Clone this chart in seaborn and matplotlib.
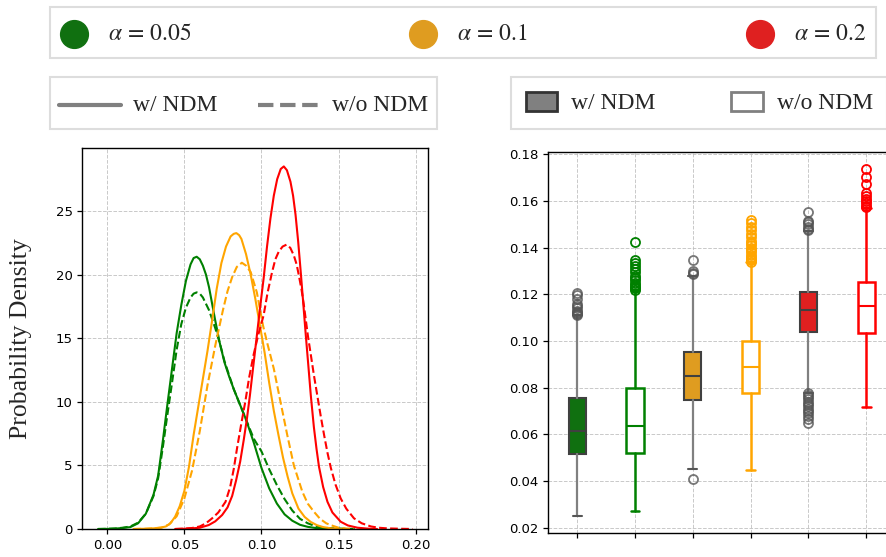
import numpy as np
import pandas as pd
import matplotlib
matplotlib.use("Agg")
import matplotlib.pyplot as plt
import seaborn as sns
from matplotlib.lines import Line2D
from matplotlib.patches import Patch
from matplotlib.legend_handler import HandlerLine2D

# ---------------- data ----------------
alpha_names = ["0.05", "0.1", "0.2"]
alpha_labels = [r"$\alpha\,=\,0.05$", r"$\alpha\,=\,0.1$", r"$\alpha\,=\,0.2$"]
methods = ["w/ NDM", "w/o NDM"]
line_colors = ["#008000", "#FFA500", "#FF0000"]
fill_colors = ["#107010", "#DF9C20", "#DF2020"]

# density curves (x, density)
x_g_w = [-0.006, 0.000, 0.005, 0.010, 0.015, 0.020, 0.025, 0.030, 0.033, 0.036, 0.039,
         0.042, 0.045, 0.048, 0.051, 0.054, 0.056, 0.058, 0.060, 0.062, 0.064, 0.066,
         0.068, 0.070, 0.073, 0.076, 0.079, 0.082, 0.086, 0.090, 0.095, 0.100, 0.105,
         0.110, 0.115, 0.120, 0.125, 0.130, 0.135, 0.140, 0.150, 0.160]
d_g_w = [0.0, 0.01, 0.03, 0.08, 0.15, 0.45, 1.2, 2.7, 4.2, 6.9, 9.8,
         12.6, 15.4, 17.6, 19.5, 20.8, 21.3, 21.4, 21.2, 20.7, 20.0, 19.0,
         17.7, 16.4, 14.6, 13.1, 12.0, 11.0, 9.8, 8.6, 6.8, 4.8, 3.2,
         2.0, 1.15, 0.65, 0.33, 0.17, 0.08, 0.04, 0.01, 0.0]

x_g_wo = [-0.006, 0.000, 0.005, 0.010, 0.015, 0.020, 0.025, 0.030, 0.033, 0.036, 0.039,
          0.042, 0.045, 0.048, 0.051, 0.054, 0.056, 0.058, 0.060, 0.062, 0.064, 0.066,
          0.068, 0.070, 0.073, 0.076, 0.079, 0.082, 0.086, 0.090, 0.095, 0.100, 0.105,
          0.110, 0.115, 0.120, 0.125, 0.130, 0.135, 0.140, 0.150, 0.160]
d_g_wo = [0.0, 0.015, 0.04, 0.1, 0.2, 0.5, 1.2, 2.6, 4.0, 6.4, 9.0,
          11.5, 14.1, 16.1, 17.4, 18.2, 18.5, 18.6, 18.5, 18.2, 17.7, 17.2,
          16.5, 15.8, 14.6, 13.2, 12.1, 11.0, 9.8, 8.6, 7.1, 6.1, 4.7,
          3.45, 2.35, 1.45, 0.8, 0.45, 0.22, 0.1, 0.03, 0.0]

x_o_w = [0.017, 0.025, 0.030, 0.035, 0.038, 0.041, 0.044, 0.047, 0.050, 0.053, 0.056,
         0.059, 0.062, 0.065, 0.068, 0.071, 0.074, 0.077, 0.080, 0.082, 0.0837, 0.0855,
         0.087, 0.090, 0.093, 0.096, 0.099, 0.102, 0.105, 0.108, 0.111, 0.114, 0.117,
         0.120, 0.124, 0.128, 0.132, 0.136, 0.140, 0.145, 0.152]
d_o_w = [0.0, 0.02, 0.05, 0.12, 0.2, 0.45, 0.97, 1.8, 3.0, 4.9, 7.4,
         9.6, 11.8, 14.0, 16.4, 18.9, 20.9, 22.2, 23.0, 23.2, 23.26, 23.1,
         22.8, 21.6, 20.0, 18.1, 16.0, 13.9, 11.5, 9.3, 7.4, 5.6, 4.1,
         2.8, 1.6, 0.95, 0.55, 0.3, 0.15, 0.05, 0.0]

x_o_wo = [0.017, 0.025, 0.030, 0.035, 0.040, 0.045, 0.050, 0.055, 0.060, 0.065, 0.070,
          0.075, 0.078, 0.081, 0.084, 0.0873, 0.090, 0.093, 0.097, 0.101, 0.104, 0.108,
          0.112, 0.1167, 0.121, 0.1265, 0.130, 0.134, 0.138, 0.142, 0.145, 0.150, 0.155,
          0.160]
d_o_wo = [0.0, 0.02, 0.05, 0.1, 0.35, 1.0, 2.4, 4.6, 7.7, 11.3, 14.4,
          17.2, 18.7, 19.8, 20.6, 20.93, 20.7, 20.2, 18.6, 16.0, 14.5, 12.6,
          10.2, 7.4, 5.0, 2.93, 2.0, 1.36, 0.8, 0.45, 0.3, 0.1, 0.03,
          0.0]

x_r_w = [0.044, 0.050, 0.055, 0.060, 0.0658, 0.070, 0.0745, 0.078, 0.081, 0.0835, 0.0862,
         0.0885, 0.0906, 0.0925, 0.0945, 0.097, 0.099, 0.1014, 0.1036, 0.1058, 0.108, 0.1102,
         0.1125, 0.1145, 0.1165, 0.1188, 0.1205, 0.1221, 0.1238, 0.1254, 0.127, 0.1287, 0.1305,
         0.132, 0.134, 0.1357, 0.1373, 0.140, 0.1428, 0.146, 0.1514, 0.156, 0.1623, 0.170,
         0.175]
d_r_w = [0.0, 0.02, 0.05, 0.1, 0.31, 0.6, 1.1, 1.7, 2.6, 3.8, 5.3,
         7.0, 8.7, 10.5, 12.6, 15.2, 17.3, 19.7, 22.2, 24.4, 26.2, 27.5,
         28.3, 28.5, 28.2, 27.3, 26.2, 24.7, 22.6, 20.3, 17.9, 15.3, 12.7,
         10.5, 8.0, 6.3, 4.9, 3.3, 2.14, 1.3, 0.57, 0.28, 0.1, 0.02,
         0.0]

x_r_wo = [0.044, 0.050, 0.055, 0.060, 0.064, 0.068, 0.072, 0.0767, 0.0797, 0.082, 0.0841,
          0.0868, 0.0895, 0.092, 0.0949, 0.098, 0.1014, 0.104, 0.1069, 0.109, 0.1112, 0.1137,
          0.1162, 0.1187, 0.121, 0.1228, 0.1243, 0.126, 0.1275, 0.1288, 0.1301, 0.132, 0.134,
          0.1362, 0.1384, 0.1406, 0.1428, 0.145, 0.148, 0.1514, 0.155, 0.160, 0.165, 0.171,
          0.176, 0.1815, 0.190, 0.198]
d_r_wo = [0.0, 0.03, 0.08, 0.2, 0.45, 0.84, 1.3, 2.14, 3.3, 4.7, 6.3,
          8.2, 10.0, 11.9, 13.7, 15.3, 16.8, 18.6, 20.2, 21.2, 21.8, 22.2,
          22.35, 22.1, 21.5, 20.8, 19.9, 18.8, 17.6, 16.4, 15.2, 13.7, 12.1,
          10.5, 8.9, 7.4, 6.0, 4.8, 3.5, 2.4, 1.6, 0.84, 0.45, 0.2,
          0.1, 0.05, 0.02, 0.0]

# box plot statistics (order: 0.05 w/, 0.05 w/o, 0.1 w/, 0.1 w/o, 0.2 w/, 0.2 w/o)
box_med = [0.0616, 0.0635, 0.0850, 0.0890, 0.1134, 0.1151]
box_q1 = [0.0515, 0.0520, 0.0749, 0.0775, 0.1037, 0.1034]
box_q3 = [0.0756, 0.0800, 0.0954, 0.1000, 0.1210, 0.1251]
box_wlo = [0.0250, 0.0271, 0.0450, 0.0447, 0.0777, 0.0716]
box_whi = [0.1110, 0.1220, 0.1277, 0.1337, 0.1470, 0.1570]
fliers_0 = [0.1205, 0.1195, 0.118, 0.116, 0.115, 0.114, 0.113, 0.1125, 0.112, 0.1115, 0.111]
fliers_1 = [0.1426, 0.1348, 0.1335, 0.132, 0.131, 0.1295, 0.128, 0.127, 0.126, 0.125,
            0.124, 0.123, 0.1225, 0.122]
fliers_2 = [0.1345, 0.1298, 0.129, 0.1285, 0.0407]
fliers_3 = [0.1519, 0.1505, 0.149, 0.1475, 0.146, 0.1445, 0.143, 0.142, 0.141, 0.140,
            0.139, 0.138, 0.137, 0.136, 0.135, 0.1345, 0.134]
fliers_4 = [0.1552, 0.1515, 0.151, 0.150, 0.149, 0.148, 0.1475,
            0.0777, 0.0770, 0.076, 0.075, 0.074, 0.073, 0.072, 0.071, 0.070, 0.069,
            0.068, 0.0665, 0.0647]
fliers_5 = [0.1737, 0.1705, 0.1675, 0.1635, 0.162, 0.161, 0.160, 0.159, 0.158, 0.1575]
box_fliers = [fliers_0, fliers_1, fliers_2, fliers_3, fliers_4, fliers_5]

# ---------------- style ----------------
sns.set_style("ticks", {"axes.grid": True, "grid.linestyle": "--"})
plt.rcParams["font.family"] = ["DejaVu Sans"]
plt.rcParams["mathtext.fontset"] = "stix"
plt.rcParams["axes.edgecolor"] = "black"
plt.rcParams["xtick.color"] = "black"
plt.rcParams["ytick.color"] = "black"

fig = plt.figure(figsize=(8.87, 5.57), dpi=100)
W, H = 887.0, 557.0
ax1 = fig.add_axes([82.3 / W, 1 - 529.0 / H, 346.0 / W, 380.7 / H])
ax2 = fig.add_axes([548.3 / W, 1 - 533.3 / H, 346.8 / W, 381.6 / H])

# ---------------- left: density curves ----------------
curves = [
    (x_g_w, d_g_w, alpha_names[0], methods[0]),
    (x_g_wo, d_g_wo, alpha_names[0], methods[1]),
    (x_o_w, d_o_w, alpha_names[1], methods[0]),
    (x_o_wo, d_o_wo, alpha_names[1], methods[1]),
    (x_r_w, d_r_w, alpha_names[2], methods[0]),
    (x_r_wo, d_r_wo, alpha_names[2], methods[1]),
]
frames = []
for xs, ds, a, m in curves:
    frames.append(pd.DataFrame({"x": xs, "density": ds, "alpha": a, "method": m}))
df = pd.concat(frames, ignore_index=True)

sns.lineplot(data=df, x="x", y="density", hue="alpha", style="method",
             hue_order=alpha_names, style_order=methods,
             palette=dict(zip(alpha_names, line_colors)),
             dashes={methods[0]: "", methods[1]: (3.7, 1.6)},
             estimator=None, sort=True, linewidth=1.5, legend=False, ax=ax1)
ax1.set_ylim(bottom=0)
ax1.set_xticks([0.0, 0.05, 0.10, 0.15, 0.20])
ax1.set_xticklabels(["0.00", "0.05", "0.10", "0.15", "0.20"])
ax1.set_yticks([0, 5, 10, 15, 20, 25])
ax1.set_xlabel("")
ax1.set_ylabel("Probability Density", fontsize=18.5, family="Liberation Serif", labelpad=17)

# ---------------- right: box plots ----------------
stats = []
for i in range(6):
    stats.append({"med": box_med[i], "q1": box_q1[i], "q3": box_q3[i],
                  "whislo": box_wlo[i], "whishi": box_whi[i], "fliers": box_fliers[i]})
for i in range(6):
    c_line = line_colors[i // 2]
    c_fill = fill_colors[i // 2]
    if i % 2 == 0:
        ax2.bxp([stats[i]], positions=[i], widths=0.3, patch_artist=True,
                boxprops=dict(facecolor=c_fill, edgecolor="#404040", linewidth=1.5),
                whiskerprops=dict(color="#808080", linewidth=1.6),
                capprops=dict(color="#555555", linewidth=1.5),
                medianprops=dict(color="#404040", linewidth=1.5),
                flierprops=dict(marker="o", markerfacecolor="none", markeredgecolor="#555555",
                                markersize=6.5, markeredgewidth=1.3, alpha=0.8),
                manage_ticks=False)
    else:
        ax2.bxp([stats[i]], positions=[i], widths=0.3, patch_artist=True,
                boxprops=dict(facecolor="white", edgecolor=c_line, linewidth=1.8),
                whiskerprops=dict(color=c_line, linewidth=1.8),
                capprops=dict(color=c_line, linewidth=1.8),
                medianprops=dict(color=c_line, linewidth=1.5),
                flierprops=dict(marker="o", markerfacecolor="none", markeredgecolor=c_line,
                                markersize=6.5, markeredgewidth=1.3),
                manage_ticks=False)
ax2.set_xlim(-0.5, 5.5)
ax2.set_xticks(range(6))
ax2.set_xticklabels([""] * 6)
ax2.set_yticks([0.02, 0.04, 0.06, 0.08, 0.10, 0.12, 0.14, 0.16, 0.18])
ax2.set_yticklabels(["0.02", "0.04", "0.06", "0.08", "0.10", "0.12", "0.14", "0.16", "0.18"])

for ax in (ax1, ax2):
    ax.grid(True, linestyle="--", color="#bbbbbb", linewidth=0.7, alpha=0.8)
    ax.set_axisbelow(True)
    ax.tick_params(labelsize=9.5, length=3.5, width=0.9, colors="black")
    for s in ax.spines.values():
        s.set_visible(True)
        s.set_color("black")
        s.set_linewidth(1.0)


# ---------------- legends ----------------
class ShiftedLine(HandlerLine2D):
    """Line/marker legend handle moved down by a fixed amount (points)."""
    def __init__(self, shift, **kw):
        super().__init__(**kw)
        self._shift = shift

    def create_artists(self, legend, orig_handle, xdescent, ydescent, width, height,
                       fontsize, trans):
        arts = super().create_artists(legend, orig_handle, xdescent, ydescent, width,
                                      height, fontsize, trans)
        for a in arts:
            a.set_ydata(np.asarray(a.get_ydata(), dtype=float) - self._shift)
        return arts


h1 = [Line2D([], [], marker="o", ls="", markersize=20, markerfacecolor=c, markeredgecolor=c)
      for c in fill_colors]
leg1 = fig.legend(h1, alpha_labels, loc="upper left",
                  bbox_to_anchor=(50 / W, 0, 826 / W, 1 - 7 / H), mode="expand",
                  ncol=3, frameon=True, fancybox=False, edgecolor="#dddddd", framealpha=1,
                  fontsize=17, handlelength=1.2, handleheight=1.72, handletextpad=0.85,
                  borderaxespad=0, borderpad=0.4,
                  handler_map={Line2D: ShiftedLine(4.3)})
leg1.get_frame().set_linewidth(1.5)

h2 = [Line2D([], [], color="#808080", lw=3, ls="-"),
      Line2D([], [], color="#808080", lw=3, ls="--")]
leg2 = fig.legend(h2, methods, loc="upper left", bbox_to_anchor=(50 / W, 1 - 77 / H),
                  ncol=2, frameon=True, fancybox=False, edgecolor="#dddddd", framealpha=1,
                  prop={"family": "Liberation Serif", "size": 17},
                  handlelength=2.6, handleheight=1.77, handletextpad=0.5, columnspacing=1.75,
                  borderaxespad=0, borderpad=0.4,
                  handler_map={Line2D: ShiftedLine(4.5)})
leg2.get_frame().set_linewidth(1.5)

h3 = [Patch(facecolor="#808080", edgecolor="#333333", linewidth=2),
      Patch(facecolor="white", edgecolor="#808080", linewidth=2)]
leg3 = fig.legend(h3, methods, loc="upper left", bbox_to_anchor=(511 / W, 1 - 77 / H),
                  ncol=2, frameon=True, fancybox=False, edgecolor="#dddddd", framealpha=1,
                  prop={"family": "Liberation Serif", "size": 17},
                  handlelength=1.33, handleheight=0.88, handletextpad=0.6, columnspacing=3.2,
                  borderaxespad=0, borderpad=0.62)
leg3.get_frame().set_linewidth(1.5)

fig.savefig("out.png", dpi=100)
